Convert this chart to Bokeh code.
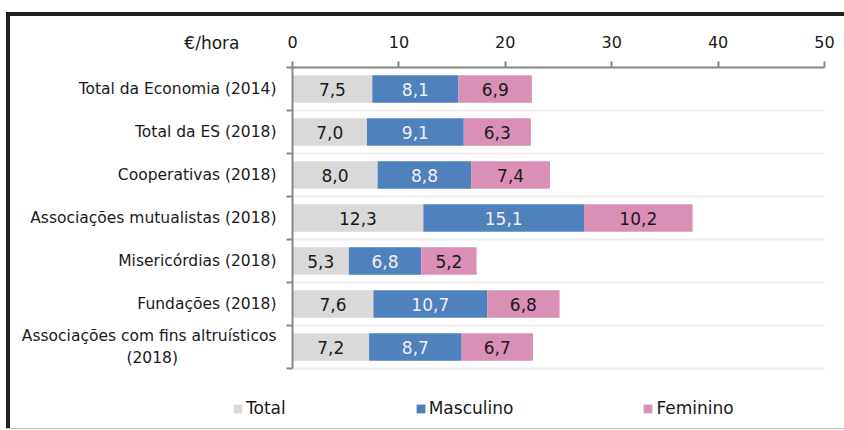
from bokeh.plotting import figure
from bokeh.models import Range1d, FixedTicker, ColumnDataSource, Legend, LegendItem, Spacer, Label
from bokeh.layouts import column, row
from bokeh.embed import file_html
from bokeh.resources import INLINE
from bokeh.core.properties import value

categories = [
    "Total da Economia (2014)",
    "Total da ES (2018)",
    "Cooperativas (2018)",
    "Associações mutualistas (2018)",
    "Misericórdias (2018)",
    "Fundações (2018)",
    "Associações com fins altruísticos\n(2018)",
]
total = [7.5, 7.0, 8.0, 12.3, 5.3, 7.6, 7.2]
masculino = [8.1, 9.1, 8.8, 15.1, 6.8, 10.7, 8.7]
feminino = [6.9, 6.3, 7.4, 10.2, 5.2, 6.8, 6.7]
series_names = ["Total", "Masculino", "Feminino"]
x_ticks = [0, 10, 20, 30, 40, 50]
unit_label = "€/hora"

FONT = "DejaVu Sans"
colors = ["#D9D9D9", "#4F81BD", "#DA8FB6"]
text_colors = ["#1A1A1A", "#F0F0F5", "#1A1A1A"]
AXIS = "#888888"
DARK = "#231F20"

n = len(categories)
centers = [i + 0.5 for i in range(n)]
bounds = list(range(n + 1))

# canvas size and where the plotting area (data 0..50 x 0..n) should sit on it
W, H = 834, 412
PX_LEFT, PX_RIGHT, PX_TOP, PX_BOTTOM = 282, 814, 51, 352
x_lo, x_hi = x_ticks[0], x_ticks[-1]
sx = (PX_RIGHT - PX_LEFT) / (x_hi - x_lo)
sy = (PX_BOTTOM - PX_TOP) / n
x_range = Range1d(x_lo - PX_LEFT / sx, x_hi + (W - PX_RIGHT) / sx)
y_range = Range1d(n + (H - PX_BOTTOM) / sy, -PX_TOP / sy)


def tick_text(s):
    parts = s.split("\n")
    if len(parts) == 2:  # centre the short second line under the first one
        return parts[0] + "\n" + parts[1] + "\u00a0" * 20
    return s


p = figure(width=W, height=H, x_range=x_range, y_range=y_range,
           x_axis_location="above", output_backend="svg", toolbar_location=None,
           min_border=0, min_border_left=0, min_border_right=0,
           min_border_top=0, min_border_bottom=0, title=None)
p.outline_line_color = None
p.background_fill_color = "white"
p.border_fill_color = "white"

# band separators (light grid)
p.segment(x0=[x_lo] * len(bounds), x1=[x_hi] * len(bounds), y0=bounds, y1=bounds,
          line_color="#EDEDED", line_width=2)

series = [total, masculino, feminino]
left = [0.0] * n
items = []
for name, vals, col, tcol in zip(series_names, series, colors, text_colors):
    right = [l + v for l, v in zip(left, vals)]
    src = ColumnDataSource(dict(
        y=centers, left=left, right=right,
        xm=[(l + r) / 2 for l, r in zip(left, right)],
        lab=[f"{v:.1f}".replace(".", ",") for v in vals],
    ))
    r = p.hbar(y="y", left="left", right="right", height=0.64, source=src,
               fill_color=col, line_color=None)
    p.text(x="xm", y="y", text="lab", source=src, text_align="center",
           text_baseline="middle", text_font=value(FONT), text_font_size="17px",
           text_color=tcol)
    items.append(LegendItem(label=name, renderers=[r]))
    left = right

# x axis (top), pinned at the top of the bars area
xa = p.xaxis[0]
xa.fixed_location = 0
xa.bounds = (x_lo, x_hi)
xa.ticker = FixedTicker(ticks=x_ticks)
xa.axis_line_color = AXIS
xa.axis_line_width = 2
xa.major_tick_line_color = AXIS
xa.major_tick_line_width = 2
xa.major_tick_out = 6
xa.major_tick_in = 0
xa.minor_tick_line_color = None
xa.major_label_standoff = 14
xa.major_label_text_font = FONT
xa.major_label_text_font_size = "16px"
xa.major_label_text_color = "#1A1A1A"

# y axis (left), pinned at x = 0
ya = p.yaxis[0]
ya.fixed_location = x_lo
ya.bounds = (0, n)
ya.ticker = FixedTicker(ticks=centers, minor_ticks=bounds)
ya.major_label_overrides = {c: tick_text(cat) for c, cat in zip(centers, categories)}
ya.axis_line_color = AXIS
ya.axis_line_width = 2
ya.major_tick_out = 0
ya.major_tick_in = 0
ya.major_tick_line_color = None
ya.minor_tick_out = 6
ya.minor_tick_in = 0
ya.minor_tick_line_color = AXIS
ya.minor_tick_line_width = 2
ya.major_label_standoff = 10
ya.major_label_text_font = FONT
ya.major_label_text_font_size = "15.5px"
ya.major_label_text_color = "#1A1A1A"

p.xgrid.visible = False
p.ygrid.visible = False

p.add_layout(Label(x=x_lo, y=0, text=unit_label, x_offset=-53, y_offset=25,
                   text_align="right", text_baseline="middle",
                   text_font=FONT, text_font_size="17px", text_color="#1A1A1A"))

legend = Legend(items=items, orientation="horizontal", location=(222, 10),
                glyph_width=11, glyph_height=11, label_standoff=3, spacing=129,
                padding=0, margin=0, border_line_color=None, background_fill_alpha=0,
                label_text_font=FONT, label_text_font_size="17px",
                label_text_color="#1A1A1A")
p.add_layout(legend, "center")

top_border = Spacer(width=W + 4, height=4, styles={"background-color": DARK})
left_border = Spacer(width=4, height=H, styles={"background-color": DARK})
bottom_border = Spacer(width=W + 4, height=1, styles={"background-color": "#C0C0C0"})
framed = column(top_border, row(left_border, p), bottom_border)
layout = column(Spacer(width=W + 10, height=12), row(Spacer(width=6, height=H + 5), framed))

open("out.html", "w").write(file_html(layout, INLINE))
